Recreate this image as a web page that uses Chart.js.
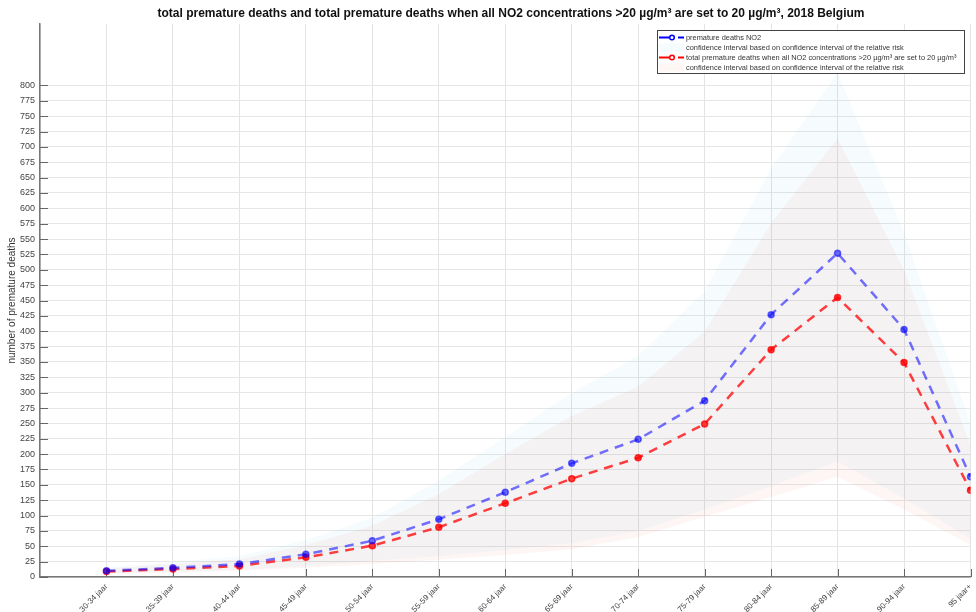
<!DOCTYPE html>
<html>
<head>
<meta charset="utf-8">
<script src="https://cdn.jsdelivr.net/npm/chart.js@4.4.1/dist/chart.umd.min.js"></script>
<style>
html,body{margin:0;padding:0;background:#fff;}
#wrap{width:976px;height:612px;position:relative;}
</style>
</head>
<body>
<div id="wrap"><canvas id="c" width="976" height="612"></canvas></div>
<script>
const titleText = 'total premature deaths and total premature deaths when all NO2 concentrations >20 µg/m³ are set to 20 µg/m³, 2018 Belgium';
const yAxisTitle = 'number of premature deaths';
const categories = ['30-34 jaar','35-39 jaar','40-44 jaar','45-49 jaar','50-54 jaar','55-59 jaar','60-64 jaar','65-69 jaar','70-74 jaar','75-79 jaar','80-84 jaar','85-89 jaar','90-94 jaar','95 jaar+'];
const yTicks = [0,25,50,75,100,125,150,175,200,225,250,275,300,325,350,375,400,425,450,475,500,525,550,575,600,625,650,675,700,725,750,775,800];

const deathsNO2      = [10, 15, 21, 37, 59, 94, 138, 185, 224, 287, 427, 527, 403, 163];
const deathsNO2Upper = [16, 24, 34, 60, 97, 157, 228, 300, 360, 465, 665, 821, 560, 250];
const deathsNO2Lower = [6, 9, 12, 18, 26, 34, 44, 55, 75, 110, 148, 188, 128, 62];

const deathsCap20      = [9, 13, 18, 32, 51, 81, 120, 160, 194, 249, 370, 455, 349, 141];
const deathsCap20Upper = [14, 21, 29, 52, 84, 135, 200, 262, 310, 400, 576, 714, 500, 215];
const deathsCap20Lower = [5, 7, 10, 15, 21, 28, 36, 45, 65, 98, 130, 163, 110, 52];

const legendLabels = [
  'premature deaths NO2',
  'confidence interval based on confidence interval of the relative risk',
  'total premature deaths when all NO2 concentrations >20 µg/m³ are set to 20 µg/m³',
  'confidence interval based on confidence interval of the relative risk'
];

const pts = arr => arr.map((v, i) => ({x: i + 1, y: v}));

const BLUE_LINE = 'rgba(0,0,255,0.55)';
const RED_LINE = 'rgba(255,0,0,0.75)';
const BLUE_BAND = 'rgba(40,180,235,0.045)';
const RED_BAND = 'rgba(230,80,70,0.055)';

const bandDs = (data, fillCol, fill) => ({
  data: pts(data), borderWidth: 0, borderColor: 'rgba(0,0,0,0)', backgroundColor: fillCol,
  pointRadius: 0, fill: fill, tension: 0, order: 10
});
const lineDs = (data, col) => ({
  data: pts(data), borderColor: col, backgroundColor: col, borderWidth: 2.5,
  borderDash: [9, 7], pointRadius: 3, pointBorderWidth: 1.5, pointBackgroundColor: col,
  pointBorderColor: col, fill: false, tension: 0, order: 1
});

const titlePlugin = {
  id: 'ttl',
  afterDraw(chart) {
    const ctx = chart.ctx;
    ctx.save();
    ctx.font = 'bold 12px "Liberation Sans", Arial, sans-serif';
    ctx.fillStyle = '#111';
    ctx.textAlign = 'center';
    ctx.textBaseline = 'middle';
    ctx.fillText(titleText, 511, 14);
    ctx.restore();
  }
};

const innerTicks = {
  id: 'innerTicks',
  beforeDatasetsDraw(chart) {
    const ctx = chart.ctx, a = chart.chartArea;
    const ys = chart.scales.y, xs = chart.scales.x;
    ctx.save();
    ctx.strokeStyle = '#666';
    ctx.lineWidth = 1;
    ctx.beginPath();
    yTicks.forEach(v => {
      const y = Math.round(ys.getPixelForValue(v)) + 0.5;
      ctx.moveTo(a.left, y); ctx.lineTo(a.left + 8, y);
    });
    categories.forEach((c, i) => {
      const x = Math.round(xs.getPixelForValue(i + 1)) + 0.5;
      ctx.moveTo(x, a.bottom); ctx.lineTo(x, a.bottom - 8);
    });
    ctx.stroke();
    ctx.restore();
  }
};

const legendPlugin = {
  id: 'customLegend',
  afterDraw(chart) {
    const ctx = chart.ctx;
    const bx = 657, by = 30, bw = 307, bh = 43;
    ctx.save();
    ctx.fillStyle = '#fff';
    ctx.fillRect(bx, by, bw, bh);
    ctx.strokeStyle = '#444';
    ctx.lineWidth = 1;
    ctx.strokeRect(bx + 0.5, by + 0.5, bw, bh);
    const rows = [37.5, 47.5, 57.5, 67.5];
    ctx.font = '7.4px "Liberation Sans", Arial, sans-serif';
    ctx.fillStyle = '#333';
    ctx.textBaseline = 'middle';
    ctx.textAlign = 'left';
    legendLabels.forEach((t, i) => ctx.fillText(t, 686, rows[i]));
    const sample = (y, col) => {
      ctx.strokeStyle = col; ctx.lineWidth = 2;
      ctx.beginPath(); ctx.moveTo(659, y); ctx.lineTo(669, y); ctx.stroke();
      ctx.beginPath(); ctx.moveTo(678, y); ctx.lineTo(684, y); ctx.stroke();
      ctx.lineWidth = 1.5; ctx.fillStyle = '#fff';
      ctx.beginPath(); ctx.arc(672, y, 2.3, 0, Math.PI * 2); ctx.fill(); ctx.stroke();
    };
    sample(rows[0], '#0000ff');
    sample(rows[2], '#ff0000');
    ctx.fillStyle = BLUE_BAND;
    ctx.fillRect(659, rows[1] - 4, 25, 8);
    ctx.fillStyle = RED_BAND;
    ctx.fillRect(659, rows[3] - 4, 25, 8);
    ctx.restore();
  }
};

new Chart(document.getElementById('c'), {
  type: 'line',
  data: {
    datasets: [
      bandDs(deathsNO2Upper, BLUE_BAND, '+1'),
      bandDs(deathsNO2Lower, BLUE_BAND, false),
      bandDs(deathsCap20Upper, RED_BAND, '+1'),
      bandDs(deathsCap20Lower, RED_BAND, false),
      lineDs(deathsNO2, BLUE_LINE),
      lineDs(deathsCap20, RED_LINE)
    ]
  },
  options: {
    responsive: false,
    animation: false,
    events: [],
    layout: {padding: {top: 24, right: 4, left: 0, bottom: 0}},
    plugins: {legend: {display: false}, tooltip: {enabled: false}, title: {display: false}},
    scales: {
      x: {
        type: 'linear', min: 0, max: categories.length,
        afterFit: s => { s.height = 35; s.paddingRight = 0; s.paddingLeft = 0; },
        afterBuildTicks: s => { s.ticks = [{value: 0}].concat(categories.map((c, i) => ({value: i + 1}))); },
        border: {color: '#777', width: 1.5},
        grid: {color: '#e3e3e3', drawTicks: false, lineWidth: 1},
        ticks: {
          autoSkip: false, maxRotation: 45, minRotation: 45, padding: 5,
          color: '#444', font: {family: '"Liberation Sans", Arial, sans-serif', size: 8},
          callback: v => (v >= 1 && v <= categories.length) ? categories[v - 1] : ''
        }
      },
      y: {
        min: 0, max: 900,
        afterFit: s => { s.width = 40; s.paddingTop = 0; s.paddingBottom = 0; },
        afterBuildTicks: s => { s.ticks = yTicks.map(v => ({value: v})); },
        border: {color: '#777', width: 1.5},
        grid: {color: '#e6e6e6', drawTicks: false, lineWidth: 1},
        ticks: {
          padding: 5, color: '#444',
          font: {family: '"Liberation Sans", Arial, sans-serif', size: 9}
        },
        title: {
          display: true, text: yAxisTitle, color: '#333', padding: {top: 6, bottom: 0},
          font: {family: '"Liberation Sans", Arial, sans-serif', size: 10}
        }
      }
    }
  },
  plugins: [innerTicks, legendPlugin, titlePlugin]
});
</script>
</body>
</html>
